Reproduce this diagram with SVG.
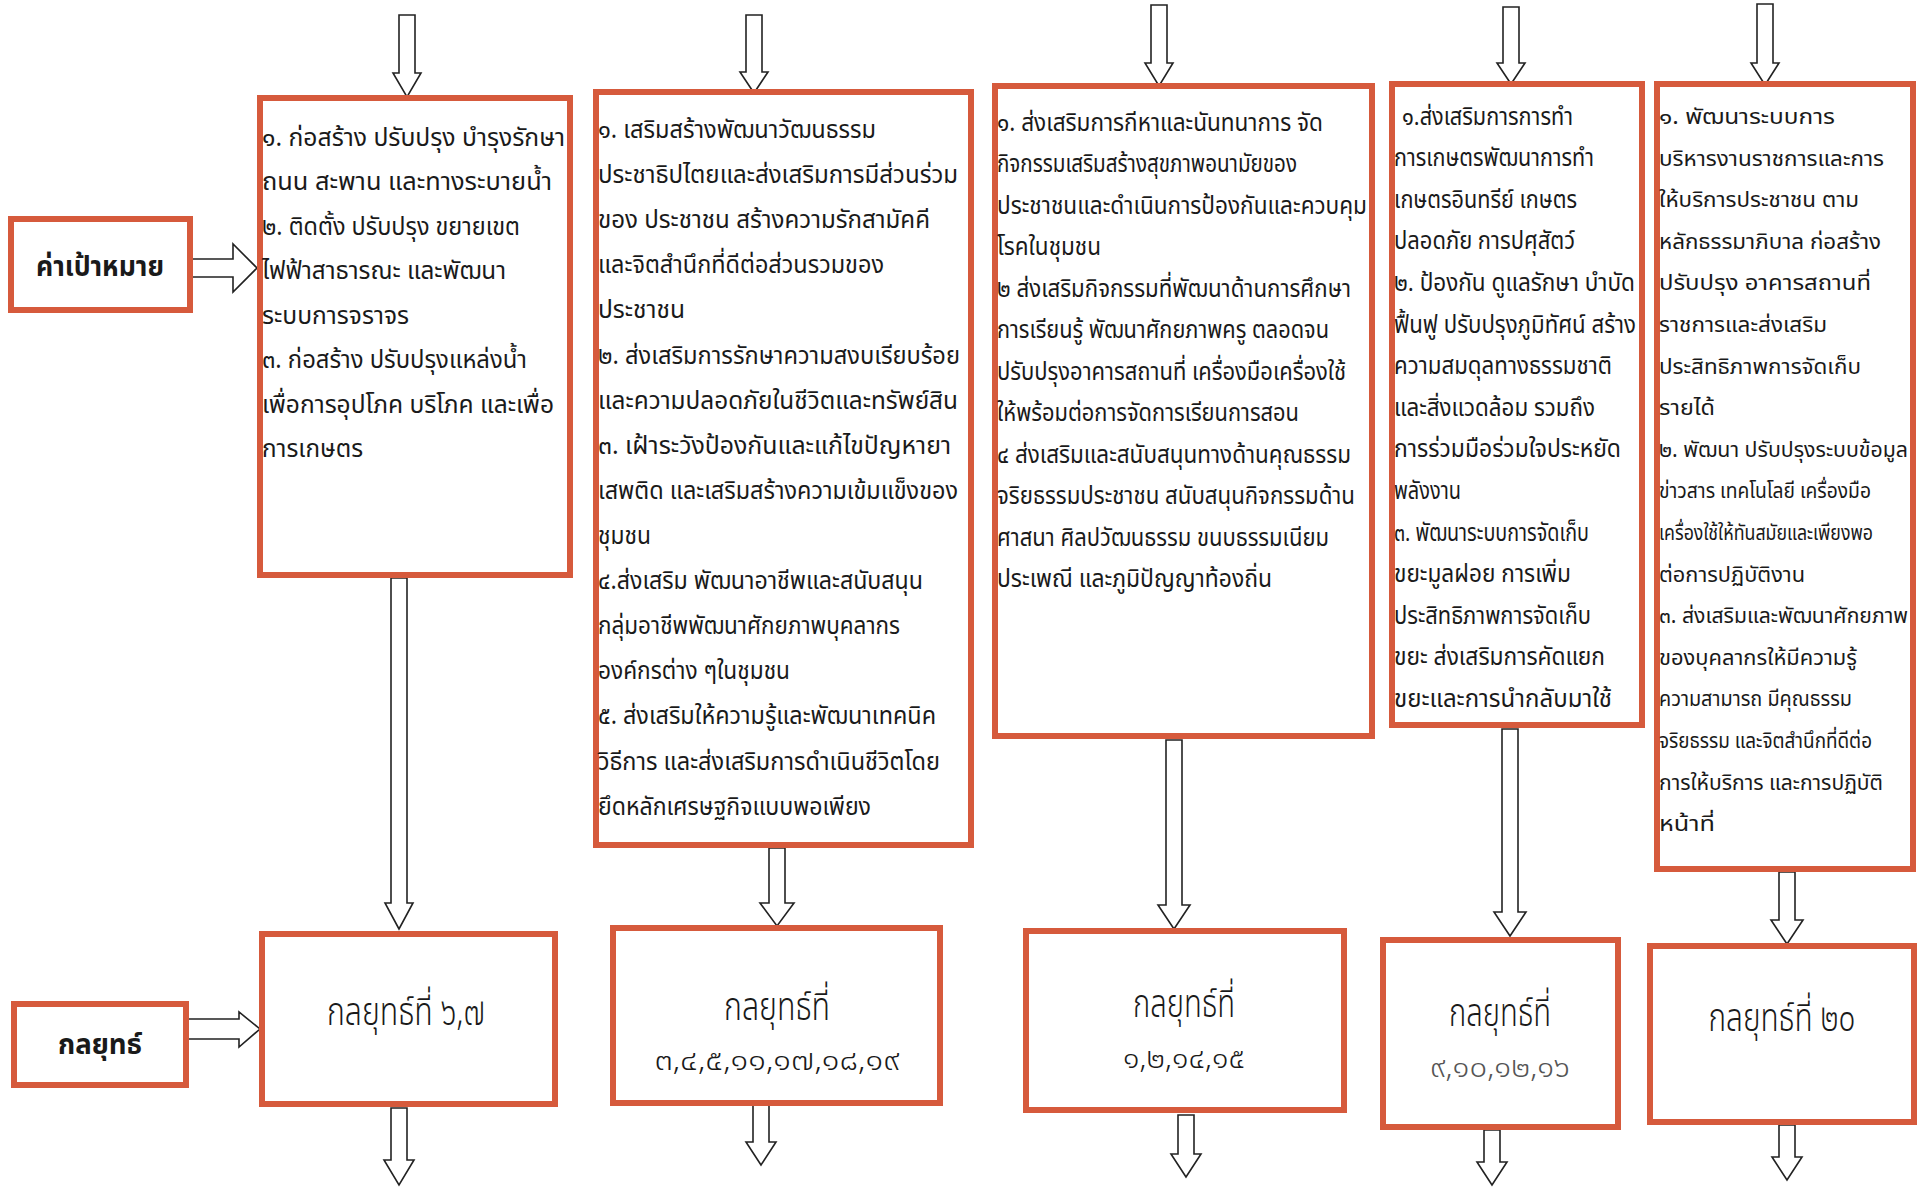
<svg xmlns="http://www.w3.org/2000/svg" width="1917" height="1187" viewBox="0 0 1917 1187">
<defs>
<style>
.box{fill:#fff;stroke:#D65A3C;stroke-width:6}
.arr{fill:#fff;stroke:#222;stroke-width:1.6;stroke-linejoin:miter}
.t{font-family:"Noto Sans Thai","Noto Sans Thai UI","Loma","Garuda","Tlwg Typo","Liberation Sans",sans-serif;fill:#1a1a1a}
.b25{font-size:25px}
.b24{font-size:24px}
.b21{font-size:21px}
.lbl{font-size:29px;font-weight:bold;text-anchor:middle}
.st{font-size:39px;text-anchor:middle;font-weight:300}
.num{font-size:29px;text-anchor:middle;font-weight:300}
.grey{fill:#555}
</style>
</defs>
<rect width="1917" height="1187" fill="#fff"/>

<g id="connectors">
<path class="arr" d="M399,15 H415 V73 H421 L407,97 L393,73 H399 Z"/>
<path class="arr" d="M746,15 H762 V72 H768 L754,93 L740,72 H746 Z"/>
<path class="arr" d="M1151,5 H1167 V63 H1173 L1159,86 L1145,63 H1151 Z"/>
<path class="arr" d="M1503,7 H1519 V63 H1525 L1511,84 L1497,63 H1503 Z"/>
<path class="arr" d="M1757,4 H1773 V63 H1779 L1765,85 L1751,63 H1757 Z"/>
<path class="arr" d="M391,578 H407 V903 H413 L399,929 L385,903 H391 Z"/>
<path class="arr" d="M769,848 H785 V903 H794 L777,926 L760,903 H769 Z"/>
<path class="arr" d="M1166,740 H1182 V905 H1190 L1174,929 L1158,905 H1166 Z"/>
<path class="arr" d="M1502,729 H1518 V912 H1526 L1510,936 L1494,912 H1502 Z"/>
<path class="arr" d="M1779,872 H1795 V920 H1803 L1787,944 L1771,920 H1779 Z"/>
<path class="arr" d="M391,1108 H407 V1160 H414 L399,1185 L384,1160 H391 Z"/>
<path class="arr" d="M753,1105 H769 V1142 H776 L761,1165 L746,1142 H753 Z"/>
<path class="arr" d="M1178,1115 H1194 V1154 H1201 L1186,1177 L1171,1154 H1178 Z"/>
<path class="arr" d="M1484,1130 H1500 V1162 H1507 L1492,1185 L1477,1162 H1484 Z"/>
<path class="arr" d="M1779,1125 H1795 V1157 H1802 L1787,1180 L1772,1157 H1779 Z"/>
<path class="arr" d="M192,259 H233 V244 L257,268 L233,292 V277 H192 Z"/>
<path class="arr" d="M188,1019 H239 V1012 L260,1029 L239,1047 V1039 H188 Z"/>
</g>

<g id="target-label">
<rect class="box" x="11" y="219" width="179" height="91"/>
<text class="t lbl" x="100" y="276" textLength="128" lengthAdjust="spacingAndGlyphs">ค่าเป้าหมาย</text>
</g>

<g id="strategy-label">
<rect class="box" x="14" y="1004" width="172" height="81"/>
<text class="t lbl" x="100" y="1054" textLength="84" lengthAdjust="spacingAndGlyphs">กลยุทธ์</text>
</g>

<g id="goal-1">
<rect class="box" x="260" y="98" width="310" height="477"/>
<g class="t b25">
<text x="262" y="146" textLength="303" lengthAdjust="spacingAndGlyphs">๑.  ก่อสร้าง ปรับปรุง บำรุงรักษา</text>
<text x="262" y="190" textLength="290" lengthAdjust="spacingAndGlyphs">ถนน สะพาน และทางระบายน้ำ</text>
<text x="262" y="235" textLength="258" lengthAdjust="spacingAndGlyphs">๒. ติดตั้ง ปรับปรุง ขยายเขต</text>
<text x="262" y="279" textLength="244" lengthAdjust="spacingAndGlyphs">ไฟฟ้าสาธารณะ และพัฒนา</text>
<text x="262" y="324" textLength="147" lengthAdjust="spacingAndGlyphs">ระบบการจราจร</text>
<text x="262" y="368" textLength="265" lengthAdjust="spacingAndGlyphs">๓. ก่อสร้าง ปรับปรุงแหล่งน้ำ</text>
<text x="262" y="413" textLength="292" lengthAdjust="spacingAndGlyphs">เพื่อการอุปโภค บริโภค และเพื่อ</text>
<text x="262" y="457" textLength="101" lengthAdjust="spacingAndGlyphs">การเกษตร</text>
</g>
</g>

<g id="goal-2">
<rect class="box" x="596" y="92" width="375" height="753"/>
<g class="t b25">
<text x="598" y="138" textLength="278" lengthAdjust="spacingAndGlyphs">๑.  เสริมสร้างพัฒนาวัฒนธรรม</text>
<text x="598" y="183" textLength="360" lengthAdjust="spacingAndGlyphs">ประชาธิปไตยและส่งเสริมการมีส่วนร่วม</text>
<text x="598" y="228" textLength="332" lengthAdjust="spacingAndGlyphs">ของ ประชาชน สร้างความรักสามัคคี</text>
<text x="598" y="273" textLength="286" lengthAdjust="spacingAndGlyphs">และจิตสำนึกที่ดีต่อส่วนรวมของ</text>
<text x="598" y="318" textLength="87" lengthAdjust="spacingAndGlyphs">ประชาชน</text>
<text x="598" y="364" textLength="362" lengthAdjust="spacingAndGlyphs">๒.  ส่งเสริมการรักษาความสงบเรียบร้อย</text>
<text x="598" y="409" textLength="360" lengthAdjust="spacingAndGlyphs">และความปลอดภัยในชีวิตและทรัพย์สิน</text>
<text x="598" y="454" textLength="353" lengthAdjust="spacingAndGlyphs">๓.  เฝ้าระวังป้องกันและแก้ไขปัญหายา</text>
<text x="598" y="499" textLength="360" lengthAdjust="spacingAndGlyphs">เสพติด และเสริมสร้างความเข้มแข็งของ</text>
<text x="598" y="544" textLength="53" lengthAdjust="spacingAndGlyphs">ชุมชน</text>
<text x="598" y="589" textLength="325" lengthAdjust="spacingAndGlyphs">๔.ส่งเสริม พัฒนาอาชีพและสนับสนุน</text>
<text x="598" y="634" textLength="302" lengthAdjust="spacingAndGlyphs">กลุ่มอาชีพพัฒนาศักยภาพบุคลากร</text>
<text x="598" y="679" textLength="192" lengthAdjust="spacingAndGlyphs">องค์กรต่าง ๆในชุมชน</text>
<text x="598" y="724" textLength="338" lengthAdjust="spacingAndGlyphs">๕. ส่งเสริมให้ความรู้และพัฒนาเทคนิค</text>
<text x="598" y="770" textLength="342" lengthAdjust="spacingAndGlyphs">วิธีการ และส่งเสริมการดำเนินชีวิตโดย</text>
<text x="598" y="815" textLength="273" lengthAdjust="spacingAndGlyphs">ยึดหลักเศรษฐกิจแบบพอเพียง</text>
</g>
</g>

<g id="goal-3">
<rect class="box" x="995" y="86" width="377" height="650"/>
<g class="t b25">
<text x="997" y="131" textLength="326" lengthAdjust="spacingAndGlyphs">๑. ส่งเสริมการกีหาและนันทนาการ จัด</text>
<text x="997" y="172" textLength="300" lengthAdjust="spacingAndGlyphs">กิจกรรมเสริมสร้างสุขภาพอนามัยของ</text>
<text x="997" y="214" textLength="370" lengthAdjust="spacingAndGlyphs">ประชาชนและดำเนินการป้องกันและควบคุม</text>
<text x="997" y="255" textLength="104" lengthAdjust="spacingAndGlyphs">โรคในชุมชน</text>
<text x="997" y="297" textLength="354" lengthAdjust="spacingAndGlyphs">๒  ส่งเสริมกิจกรรมที่พัฒนาด้านการศึกษา</text>
<text x="997" y="338" textLength="332" lengthAdjust="spacingAndGlyphs">การเรียนรู้ พัฒนาศักยภาพครู ตลอดจน</text>
<text x="997" y="380" textLength="349" lengthAdjust="spacingAndGlyphs">ปรับปรุงอาคารสถานที่ เครื่องมือเครื่องใช้</text>
<text x="997" y="421" textLength="302" lengthAdjust="spacingAndGlyphs">ให้พร้อมต่อการจัดการเรียนการสอน</text>
<text x="997" y="463" textLength="354" lengthAdjust="spacingAndGlyphs">๔  ส่งเสริมและสนับสนุนทางด้านคุณธรรม</text>
<text x="997" y="504" textLength="358" lengthAdjust="spacingAndGlyphs">จริยธรรมประชาชน  สนับสนุนกิจกรรมด้าน</text>
<text x="997" y="546" textLength="332" lengthAdjust="spacingAndGlyphs">ศาสนา ศิลปวัฒนธรรม ขนบธรรมเนียม</text>
<text x="997" y="587" textLength="275" lengthAdjust="spacingAndGlyphs">ประเพณี และภูมิปัญญาท้องถิ่น</text>
</g>
</g>

<g id="goal-4">
<rect class="box" x="1392" y="84" width="250" height="641"/>
<g class="t b24">
<text x="1402" y="125" textLength="171" lengthAdjust="spacingAndGlyphs">๑.ส่งเสริมการการทำ</text>
<text x="1394" y="166" textLength="200" lengthAdjust="spacingAndGlyphs">การเกษตรพัฒนาการทำ</text>
<text x="1394" y="208" textLength="183" lengthAdjust="spacingAndGlyphs">เกษตรอินทรีย์ เกษตร</text>
<text x="1394" y="249" textLength="181" lengthAdjust="spacingAndGlyphs">ปลอดภัย การปศุสัตว์</text>
<text x="1394" y="291" textLength="241" lengthAdjust="spacingAndGlyphs">๒. ป้องกัน ดูแลรักษา บำบัด</text>
<text x="1394" y="333" textLength="242" lengthAdjust="spacingAndGlyphs">ฟื้นฟู ปรับปรุงภูมิทัศน์ สร้าง</text>
<text x="1394" y="374" textLength="218" lengthAdjust="spacingAndGlyphs">ความสมดุลทางธรรมชาติ</text>
<text x="1394" y="416" textLength="201" lengthAdjust="spacingAndGlyphs">และสิ่งแวดล้อม รวมถึง</text>
<text x="1394" y="457" textLength="227" lengthAdjust="spacingAndGlyphs">การร่วมมือร่วมใจประหยัด</text>
<text x="1394" y="499" textLength="67" lengthAdjust="spacingAndGlyphs">พลังงาน</text>
<text x="1394" y="541" textLength="195" lengthAdjust="spacingAndGlyphs">๓. พัฒนาระบบการจัดเก็บ</text>
<text x="1394" y="582" textLength="177" lengthAdjust="spacingAndGlyphs">ขยะมูลฝอย การเพิ่ม</text>
<text x="1394" y="624" textLength="197" lengthAdjust="spacingAndGlyphs">ประสิทธิภาพการจัดเก็บ</text>
<text x="1394" y="665" textLength="211" lengthAdjust="spacingAndGlyphs">ขยะ ส่งเสริมการคัดแยก</text>
<text x="1394" y="707" textLength="218" lengthAdjust="spacingAndGlyphs">ขยะและการนำกลับมาใช้</text>
</g>
</g>

<g id="goal-5">
<rect class="box" x="1657" y="84" width="256" height="785"/>
<g class="t b21">
<text x="1659" y="124" textLength="176" lengthAdjust="spacingAndGlyphs">๑.  พัฒนาระบบการ</text>
<text x="1659" y="166" textLength="225" lengthAdjust="spacingAndGlyphs">บริหารงานราชการและการ</text>
<text x="1659" y="207" textLength="200" lengthAdjust="spacingAndGlyphs">ให้บริการประชาชน ตาม</text>
<text x="1659" y="249" textLength="222" lengthAdjust="spacingAndGlyphs">หลักธรรมาภิบาล ก่อสร้าง</text>
<text x="1659" y="290" textLength="212" lengthAdjust="spacingAndGlyphs">ปรับปรุง   อาคารสถานที่</text>
<text x="1659" y="332" textLength="168" lengthAdjust="spacingAndGlyphs">ราชการและส่งเสริม</text>
<text x="1659" y="374" textLength="202" lengthAdjust="spacingAndGlyphs">ประสิทธิภาพการจัดเก็บ</text>
<text x="1659" y="415" textLength="56" lengthAdjust="spacingAndGlyphs">รายได้</text>
<text x="1659" y="457" textLength="249" lengthAdjust="spacingAndGlyphs">๒.  พัฒนา ปรับปรุงระบบข้อมูล</text>
<text x="1659" y="498" textLength="212" lengthAdjust="spacingAndGlyphs">ข่าวสาร เทคโนโลยี เครื่องมือ</text>
<text x="1659" y="540" textLength="214" lengthAdjust="spacingAndGlyphs">เครื่องใช้ให้ทันสมัยและเพียงพอ</text>
<text x="1659" y="582" textLength="146" lengthAdjust="spacingAndGlyphs">ต่อการปฏิบัติงาน</text>
<text x="1659" y="623" textLength="249" lengthAdjust="spacingAndGlyphs">๓. ส่งเสริมและพัฒนาศักยภาพ</text>
<text x="1659" y="665" textLength="198" lengthAdjust="spacingAndGlyphs">ของบุคลากรให้มีความรู้</text>
<text x="1659" y="706" textLength="193" lengthAdjust="spacingAndGlyphs">ความสามารถ มีคุณธรรม</text>
<text x="1659" y="748" textLength="213" lengthAdjust="spacingAndGlyphs">จริยธรรม และจิตสำนึกที่ดีต่อ</text>
<text x="1659" y="790" textLength="224" lengthAdjust="spacingAndGlyphs">การให้บริการ และการปฏิบัติ</text>
<text x="1659" y="831" textLength="56" lengthAdjust="spacingAndGlyphs">หน้าที่</text>
</g>
</g>

<g id="strategy-1">
<rect class="box" x="262" y="934" width="293" height="170"/>
<text class="t st" x="406" y="1025" textLength="158" lengthAdjust="spacingAndGlyphs">กลยุทธ์ที่ ๖,๗</text>
</g>

<g id="strategy-2">
<rect class="box" x="613" y="928" width="327" height="175"/>
<text class="t st" x="777" y="1020" textLength="106" lengthAdjust="spacingAndGlyphs">กลยุทธ์ที่</text>
<text class="t num" x="777" y="1070" textLength="245" lengthAdjust="spacingAndGlyphs">๓,๔,๕,๑๑,๑๗,๑๘,๑๙</text>
</g>

<g id="strategy-3">
<rect class="box" x="1026" y="931" width="318" height="179"/>
<text class="t st" x="1184" y="1017" textLength="102" lengthAdjust="spacingAndGlyphs">กลยุทธ์ที่</text>
<text class="t num" x="1184" y="1068" textLength="122" lengthAdjust="spacingAndGlyphs">๑,๒,๑๔,๑๕</text>
</g>

<g id="strategy-4">
<rect class="box" x="1383" y="940" width="235" height="187"/>
<text class="t st" x="1500" y="1026" textLength="102" lengthAdjust="spacingAndGlyphs">กลยุทธ์ที่</text>
<text class="t num grey" x="1500" y="1077" textLength="140" lengthAdjust="spacingAndGlyphs">๙,๑๐,๑๒,๑๖</text>
</g>

<g id="strategy-5">
<rect class="box" x="1650" y="946" width="264" height="176"/>
<text class="t st" x="1782" y="1031" textLength="147" lengthAdjust="spacingAndGlyphs">กลยุทธ์ที่ ๒๐</text>
</g>
</svg>
